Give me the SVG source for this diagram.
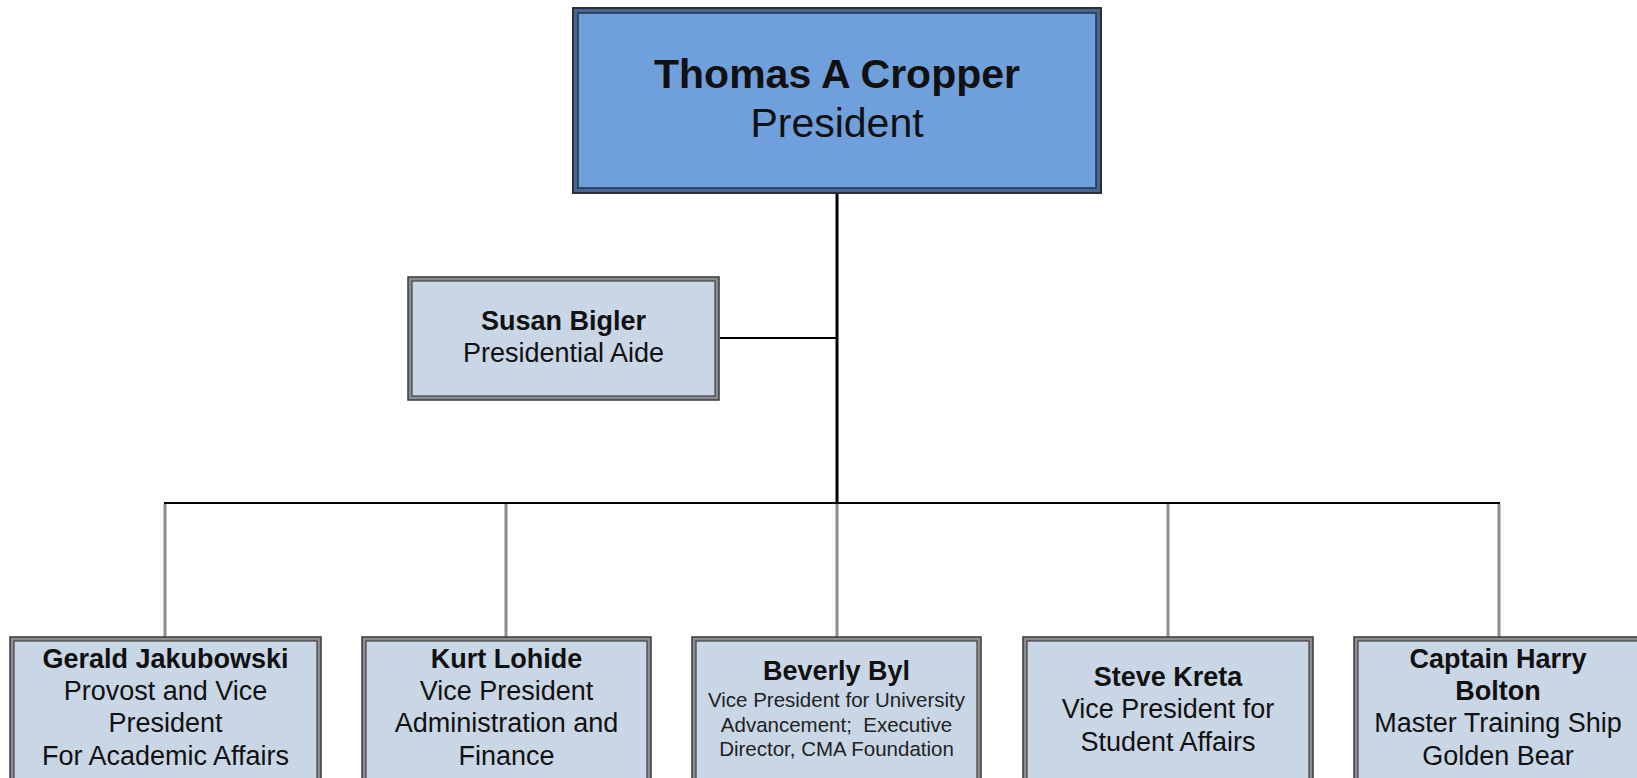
<svg xmlns="http://www.w3.org/2000/svg" width="1637" height="778" viewBox="0 0 1637 778">
<style>
.bg{fill:#ffffff}
.ob{fill:#8a8d92;stroke:#3a3a3a;stroke-width:1.5}
.ib{fill:#c9d6e6;stroke:#404040;stroke-width:1.2}
.pob{fill:#4a6590;stroke:#2b2f38;stroke-width:2}
.pib{fill:#70a0dc;stroke:#22324e;stroke-width:1.5}
text{font-family:"Liberation Sans",Arial,sans-serif;fill:#111;text-anchor:middle}
.b{font-weight:bold;font-size:27px}
.r{font-size:27px}
.s{font-size:20.5px;fill:#222}
.pb{font-weight:bold;font-size:41px}
.pr{font-size:41px}
.blk{stroke:#000;fill:none}
.gry{stroke:#8c8c8c;fill:none;stroke-width:3}
</style>
<rect class="bg" x="0" y="0" width="1637" height="778"/>
<g id="connectors">
<line class="blk" x1="837" y1="193" x2="837" y2="503" stroke-width="3"/>
<line class="blk" x1="720" y1="338" x2="837" y2="338" stroke-width="2"/>
<line class="blk" x1="164" y1="503" x2="1500" y2="503" stroke-width="2"/>
<line class="gry" x1="165" y1="504" x2="165" y2="637"/>
<line class="gry" x1="506" y1="504" x2="506" y2="637"/>
<line class="gry" x1="837" y1="504" x2="837" y2="637"/>
<line class="gry" x1="1168" y1="504" x2="1168" y2="637"/>
<line class="gry" x1="1499" y1="504" x2="1499" y2="637"/>
</g>
<g id="president">
<rect class="pob" x="573" y="8" width="528" height="185"/>
<rect class="pib" x="578" y="13" width="518" height="175"/>
<text class="pb" x="837" y="88">Thomas A Cropper</text>
<text class="pr" x="837" y="137">President</text>
</g>
<g id="aide">
<rect class="ob" x="408" y="277" width="311" height="123"/>
<rect class="ib" x="412" y="281" width="303" height="115"/>
<text class="b" x="563.5" y="330">Susan Bigler</text>
<text class="r" x="563.5" y="362">Presidential Aide</text>
</g>
<g id="provost">
<rect class="ob" x="10" y="637" width="311" height="160"/>
<rect class="ib" x="14" y="641" width="303" height="152"/>
<text class="b" x="165.5" y="668">Gerald Jakubowski</text>
<text class="r" x="165.5" y="700">Provost and Vice</text>
<text class="r" x="165.5" y="732">President</text>
<text class="r" x="165.5" y="765">For Academic Affairs</text>
</g>
<g id="admin">
<rect class="ob" x="362" y="637" width="289" height="160"/>
<rect class="ib" x="366" y="641" width="281" height="152"/>
<text class="b" x="506.5" y="668">Kurt Lohide</text>
<text class="r" x="506.5" y="700">Vice President</text>
<text class="r" x="506.5" y="732">Administration and</text>
<text class="r" x="506.5" y="765">Finance</text>
</g>
<g id="advancement">
<rect class="ob" x="692" y="637" width="289" height="160"/>
<rect class="ib" x="696" y="641" width="281" height="152"/>
<text class="b" x="836.5" y="680">Beverly Byl</text>
<text class="s" x="836.5" y="707">Vice President for University</text>
<text class="s" x="836.5" y="732">Advancement;&#160; Executive</text>
<text class="s" x="836.5" y="756">Director, CMA Foundation</text>
</g>
<g id="student">
<rect class="ob" x="1023" y="637" width="290" height="160"/>
<rect class="ib" x="1027" y="641" width="282" height="152"/>
<text class="b" x="1168" y="686">Steve Kreta</text>
<text class="r" x="1168" y="718">Vice President for</text>
<text class="r" x="1168" y="751">Student Affairs</text>
</g>
<g id="ship">
<rect class="ob" x="1354" y="637" width="290" height="160"/>
<rect class="ib" x="1358" y="641" width="282" height="152"/>
<text class="b" x="1498" y="668">Captain Harry</text>
<text class="b" x="1498" y="700">Bolton</text>
<text class="r" x="1498" y="732">Master Training Ship</text>
<text class="r" x="1498" y="765">Golden Bear</text>
</g>
</svg>
